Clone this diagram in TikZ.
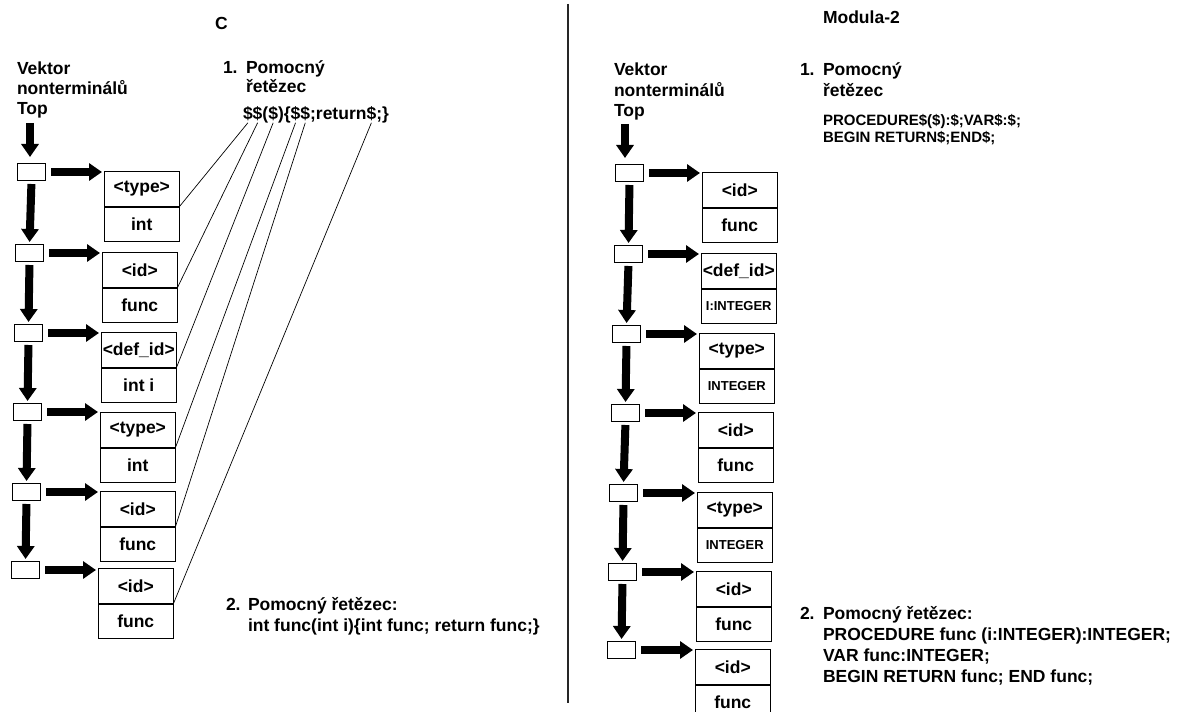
\documentclass[tikz,border=0pt]{standalone}
\usepackage{fontspec}
\setmainfont{Liberation Sans}
\usetikzlibrary{arrows.meta}

\newcommand{\bigtxt}{\fontsize{17.5bp}{20bp}\selectfont\bfseries}
\newcommand{\midtxt}{\fontsize{15bp}{16bp}\selectfont\bfseries}
\newcommand{\smalltxt}{\fontsize{13bp}{14bp}\selectfont\bfseries}

\tikzset{
  lbl/.style={inner sep=0, outer sep=0, anchor=base west, font=\bigtxt},
  mlbl/.style={inner sep=0, outer sep=0, anchor=base west, font=\midtxt},
  ch/.style={inner sep=0, outer sep=0, anchor=base west, font=\bigtxt},
  slot/.style={draw, line width=1bp, minimum width=28bp, minimum height=17bp,
    inner sep=0, anchor=north west},
  half/.style={draw, line width=1bp, minimum width=74.5bp, minimum height=34.5bp,
    inner sep=0, anchor=north west, font=\bigtxt},
  fat/.style={line width=8bp, -{Triangle[length=13bp, width=17bp]}},
  conn/.style={line width=0.7bp},
}

\begin{document}
\begin{tikzpicture}[x=1bp, y=-1bp]
\clip (0,0) rectangle (1192,712);
\fill[white] (0,0) rectangle (1192,712);

% divider between the two halves
\draw[line width=1.5bp, black!85] (568,4) -- (568,703);

% ---------------- C ----------------
\node[lbl] (titleC) at (215,30) {C};
\node[lbl] (vecA1) at (17,75) {Vektor};
\node[lbl] (vecA2) at (17,95) {nonterminálů};
\node[lbl] (vecA3) at (17,115) {Top};

\node[lbl] (numA1) at (223,74) {1.};
\node[lbl] (hdA1) at (246,74) {Pomocný};
\node[lbl] (hdA2) at (246,93) {řetězec};

% auxiliary string, every character a node so the $ signs can be linked
\node[ch] (d1) at (243,119.5) {\$};
\node[ch] (d2) at (d1.base east) {\$};
\node[ch] (c1) at (d2.base east) {(};
\node[ch] (d3) at (c1.base east) {\$};
\node[ch] (c2) at (d3.base east) {)};
\node[ch] (c3) at (c2.base east) {\{};
\node[ch] (d4) at (c3.base east) {\$};
\node[ch] (d5) at (d4.base east) {\$};
\node[ch] (c4) at (d5.base east) {;return};
\node[ch] (d6) at (c4.base east) {\$};
\node[ch] (c5) at (d6.base east) {;\}};

\node[lbl] (numA2) at (226,610) {2.};
\node[lbl] (ftA1) at (248,610) {Pomocný řetězec:};
\node[lbl] (ftA2) at (248,631) {int func(int i)\{int func; return func;\}};

% stack slots
\node[slot] (sa1) at (17,163) {};
\node[slot] (sa2) at (15,244) {};
\node[slot] (sa3) at (14,324) {};
\node[slot] (sa4) at (13,403) {};
\node[slot] (sa5) at (12,483) {};
\node[slot] (sa6) at (11,561) {};

% nonterminal records
\node[half] (ta1) at (104,171) {<type>};
\node[half] (ba1) at (ta1.south west) {int};
\node[half] (ta2) at (102,252) {<id>};
\node[half] (ba2) at (ta2.south west) {func};
\node[half] (ta3) at (101,332) {<def\_id>};
\node[half] (ba3) at (ta3.south west) {int i};
\node[half] (ta4) at (100,412) {<type>};
\node[half] (ba4) at (ta4.south west) {int};
\node[half] (ta5) at (100,491) {<id>};
\node[half] (ba5) at (ta5.south west) {func};
\node[half] (ta6) at (98,568) {<id>};
\node[half] (ba6) at (ta6.south west) {func};

\coordinate (topA) at (30,123);
\draw[fat] (topA) -- (30,157);
\foreach \i in {1,...,6} {
  \draw[fat, shorten <=5bp, shorten >=2bp] (sa\i.east) -- (sa\i.east -| ta\i.west);
}
\foreach \i/\j in {1/2,2/3,3/4,4/5,5/6} {
  \draw[fat, shorten <=3bp, shorten >=2bp] (sa\i.south) -- (sa\j.north);
}

\foreach \i in {1,...,6} {
  \draw[conn] ([yshift=-2bp]d\i.south) -- (ta\i.south east);
}

% ---------------- Modula-2 ----------------
\node[lbl] (titleM) at (823,23.5) {Modula-2};
\node[lbl] (vecB1) at (614,76) {Vektor};
\node[lbl] (vecB2) at (614,97) {nonterminálů};
\node[lbl] (vecB3) at (614,117) {Top};

\node[lbl] (numB1) at (800,76) {1.};
\node[lbl] (hdB1) at (823,76) {Pomocný};
\node[lbl] (hdB2) at (823,97) {řetězec};
\node[mlbl] (strB1) at (823,126) {PROCEDURE\$(\$):\$;VAR\$:\$;};
\node[mlbl] (strB2) at (823,143) {BEGIN RETURN\$;END\$;};

\node[lbl] (numB2) at (800,619) {2.};
\node[lbl] (ftB1) at (823,619) {Pomocný řetězec:};
\node[lbl] (ftB2) at (823,640) {PROCEDURE func (i:INTEGER):INTEGER;};
\node[lbl] (ftB3) at (823,661) {VAR func:INTEGER;};
\node[lbl] (ftB4) at (823,682) {BEGIN RETURN func; END func;};

\node[slot] (sb1) at (615,164) {};
\node[slot] (sb2) at (614,245) {};
\node[slot] (sb3) at (612,325) {};
\node[slot] (sb4) at (611,404) {};
\node[slot] (sb5) at (609,484) {};
\node[slot] (sb6) at (608,563) {};
\node[slot] (sb7) at (607,641) {};

\node[half] (tb1) at (702,172) {<id>};
\node[half] (bb1) at (tb1.south west) {func};
\node[half] (tb2) at (701,253) {<def\_id>};
\node[half, font=\smalltxt] (bb2) at (tb2.south west) {I:INTEGER};
\node[half] (tb3) at (699,333) {<type>};
\node[half, font=\smalltxt] (bb3) at (tb3.south west) {INTEGER};
\node[half] (tb4) at (698,412) {<id>};
\node[half] (bb4) at (tb4.south west) {func};
\node[half] (tb5) at (697,492) {<type>};
\node[half, font=\smalltxt] (bb5) at (tb5.south west) {INTEGER};
\node[half] (tb6) at (696,571) {<id>};
\node[half] (bb6) at (tb6.south west) {func};
\node[half] (tb7) at (695,649) {<id>};
\node[half] (bb7) at (tb7.south west) {func};

\coordinate (topB) at (625,124);
\draw[fat] (topB) -- (625,158);
\foreach \i in {1,...,7} {
  \draw[fat, shorten <=5bp, shorten >=2bp] (sb\i.east) -- (sb\i.east -| tb\i.west);
}
\foreach \i/\j in {1/2,2/3,3/4,4/5,5/6,6/7} {
  \draw[fat, shorten <=3bp, shorten >=2bp] (sb\i.south) -- (sb\j.north);
}
\end{tikzpicture}
\end{document}
